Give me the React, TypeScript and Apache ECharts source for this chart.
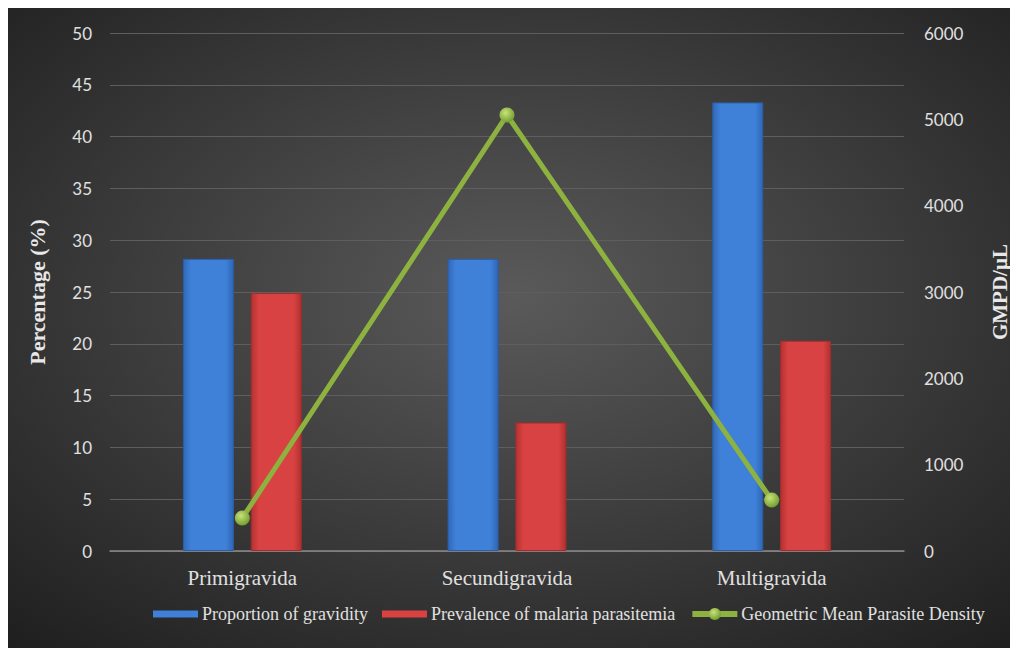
import React, { useEffect, useRef } from "react";
import * as echarts from "echarts";

const categories = ["Primigravida", "Secundigravida", "Multigravida"];
const proportionGravidity = [28.2, 28.2, 43.3];
const prevalenceMalaria = [24.9, 12.4, 20.3];
const gmpd = [382, 5050, 591];

const serif = "'Liberation Serif', 'Times New Roman', serif";
const sans = "Lato, 'Open Sans', sans-serif";
const barIcon = "path://M0,0 L0.01,0 M0,4 L45,4 L45,11 L0,11 Z M0,15 L0.01,15";

export default function App() {
  const ref = useRef<HTMLDivElement>(null);
  useEffect(() => {
    if (!ref.current) return;
    const chart = echarts.init(ref.current, undefined, { renderer: "svg" });
    const blueGrad = new echarts.graphic.LinearGradient(0, 0, 1, 0, [
      { offset: 0, color: "#3068b8" },
      { offset: 0.15, color: "#3f80d8" },
      { offset: 0.85, color: "#3f80d8" },
      { offset: 1, color: "#2f66b4" },
    ]);
    const redGrad = new echarts.graphic.LinearGradient(0, 0, 1, 0, [
      { offset: 0, color: "#b33232" },
      { offset: 0.15, color: "#d94242" },
      { offset: 0.85, color: "#d94242" },
      { offset: 1, color: "#b03030" },
    ]);
    const greenBall = new echarts.graphic.RadialGradient(0.4, 0.35, 0.7, [
      { offset: 0, color: "#c8e27a" },
      { offset: 1, color: "#6e9a2a" },
    ]);
    chart.setOption({
      animation: false,
      backgroundColor: new echarts.graphic.RadialGradient(0.5, 0.45, 0.75, [
        { offset: 0, color: "#5a5a5a" },
        { offset: 1, color: "#1e1e1e" },
      ]),
      grid: { left: 102, right: 113, top: 25, bottom: 97 },
      legend: {
        left: 145,
        top: 597,
        width: 865,
        itemWidth: 45,
        itemHeight: 15,
        itemGap: 14,
        padding: 0,
        textStyle: { color: "#e0e0e0", fontFamily: serif, fontSize: 18, padding: [0, 0, 0, -1] },
        data: [
          {
            name: "Proportion of gravidity",
            icon: barIcon,
            itemStyle: { color: "#3f80d8", borderWidth: 0 },
          },
          {
            name: "Prevalence of malaria parasitemia",
            icon: barIcon,
            itemStyle: { color: "#d94242", borderWidth: 0 },
          },
          {
            name: "Geometric Mean Parasite Density",
            itemStyle: { color: greenBall },
            lineStyle: { color: "#8db23f", width: 6 },
          },
        ],
      },
      xAxis: {
        type: "category",
        data: categories,
        axisLine: { lineStyle: { color: "#8a8a8a", width: 1.5 } },
        axisTick: { show: false },
        axisLabel: { color: "#e0e0e0", fontFamily: serif, fontSize: 21, margin: 16 },
      },
      yAxis: [
        {
          type: "value",
          min: 0,
          max: 50,
          interval: 5,
          name: "Percentage (%)",
          nameLocation: "middle",
          nameRotate: 90,
          nameGap: 62,
          nameTextStyle: { color: "#e8e8e8", fontFamily: serif, fontSize: 22, fontWeight: "bold" },
          axisLine: { show: false },
          axisTick: { show: false },
          axisLabel: { color: "#e0e0e0", fontFamily: sans, fontSize: 17, margin: 18 },
          splitLine: { lineStyle: { color: "#5e5e5e", width: 1 } },
        },
        {
          type: "value",
          min: 0,
          max: 6000,
          interval: 1000,
          name: "GMPD/µL",
          nameLocation: "middle",
          nameRotate: 90,
          nameGap: 85,
          nameTextStyle: { color: "#e8e8e8", fontFamily: serif, fontSize: 21, fontWeight: "bold" },
          axisLine: { show: false },
          axisTick: { show: false },
          axisLabel: {
            color: "#e0e0e0",
            fontFamily: sans,
            fontSize: 17,
            margin: 20,
            formatter: (v: number) => String(v),
          },
          splitLine: { show: false },
        },
      ],
      series: [
        {
          name: "Proportion of gravidity",
          type: "bar",
          data: proportionGravidity,
          barWidth: 51,
          barGap: "33%",
          itemStyle: { color: blueGrad, borderColor: "#2a5ea8", borderWidth: 1 },
        },
        {
          name: "Prevalence of malaria parasitemia",
          type: "bar",
          data: prevalenceMalaria,
          barWidth: 51,
          barGap: "33%",
          itemStyle: { color: redGrad, borderColor: "#a52c2c", borderWidth: 1 },
        },
        {
          name: "Geometric Mean Parasite Density",
          type: "line",
          yAxisIndex: 1,
          data: gmpd,
          symbol: "circle",
          symbolSize: 15,
          lineStyle: { color: "#8db23f", width: 5 },
          itemStyle: { color: greenBall },
          z: 5,
        },
      ],
    });
    return () => chart.dispose();
  }, []);
  return <div ref={ref} style={{ width: 1010, height: 640 }} />;
}
